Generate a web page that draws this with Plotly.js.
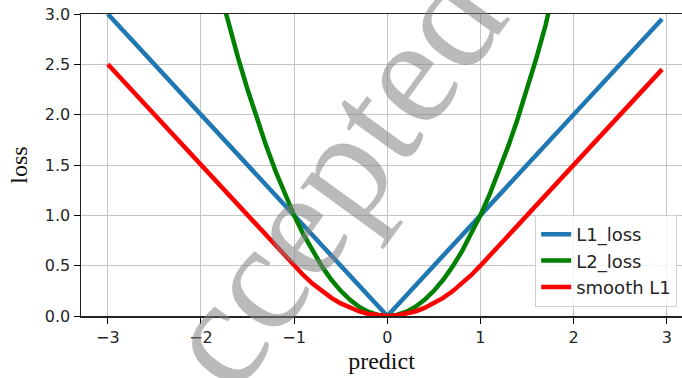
<!DOCTYPE html>
<html>
<head>
<meta charset="utf-8">
<script src="https://cdn.plot.ly/plotly-3.0.1.min.js"></script>
<style>html,body{margin:0;padding:0;overflow:hidden;background:#fff}</style>
</head>
<body>
<div id="chart" style="width:682px;height:378px"></div>
<script>
var predict = [-3.0,-2.9,-2.8,-2.7,-2.6,-2.5,-2.4,-2.3,-2.2,-2.1,-2.0,-1.9,-1.8,-1.7,-1.6,-1.5,-1.4,-1.3,-1.2,-1.1,-1.0,-0.9,-0.8,-0.7,-0.6,-0.5,-0.4,-0.3,-0.2,-0.1,0.0,0.1,0.2,0.3,0.4,0.5,0.6,0.7,0.8,0.9,1.0,1.1,1.2,1.3,1.4,1.5,1.6,1.7,1.8,1.9,2.0,2.1,2.2,2.3,2.4,2.5,2.6,2.7,2.8,2.9,2.95];
var l1Loss = [3.0,2.9,2.8,2.7,2.6,2.5,2.4,2.3,2.2,2.1,2.0,1.9,1.8,1.7,1.6,1.5,1.4,1.3,1.2,1.1,1.0,0.9,0.8,0.7,0.6,0.5,0.4,0.3,0.2,0.1,0.0,0.1,0.2,0.3,0.4,0.5,0.6,0.7,0.8,0.9,1.0,1.1,1.2,1.3,1.4,1.5,1.6,1.7,1.8,1.9,2.0,2.1,2.2,2.3,2.4,2.5,2.6,2.7,2.8,2.9,2.95];
var l2Loss = [9.0,8.41,7.84,7.29,6.76,6.25,5.76,5.29,4.84,4.41,4.0,3.61,3.24,2.89,2.56,2.25,1.96,1.69,1.44,1.21,1.0,0.81,0.64,0.49,0.36,0.25,0.16,0.09,0.04,0.01,0.0,0.01,0.04,0.09,0.16,0.25,0.36,0.49,0.64,0.81,1.0,1.21,1.44,1.69,1.96,2.25,2.56,2.89,3.24,3.61,4.0,4.41,4.84,5.29,5.76,6.25,6.76,7.29,7.84,8.41,8.70];
var smoothL1 = [2.5,2.4,2.3,2.2,2.1,2.0,1.9,1.8,1.7,1.6,1.5,1.4,1.3,1.2,1.1,1.0,0.9,0.8,0.7,0.6,0.5,0.405,0.32,0.245,0.18,0.125,0.08,0.045,0.02,0.005,0.0,0.005,0.02,0.045,0.08,0.125,0.18,0.245,0.32,0.405,0.5,0.6,0.7,0.8,0.9,1.0,1.1,1.2,1.3,1.4,1.5,1.6,1.7,1.8,1.9,2.0,2.1,2.2,2.3,2.4,2.45];
var seriesNames = ["L1_loss","L2_loss","smooth L1"];
var xTicks = [-3,-2,-1,0,1,2,3];
var yTicks = [0,0.5,1,1.5,2,2.5,3];

var colors = ["#1f77b4","#008000","#ff0000"];
var ys = [l1Loss,l2Loss,smoothL1];
var traces = ys.map(function(y,i){
  return {x: predict, y: y, type: "scatter", mode: "lines", name: seriesNames[i],
          line: {color: colors[i], width: 4.5}};
});

var tickFont = {family: "DejaVu Sans", size: 16, color: "#262626"};
var layout = {
  width: 682, height: 378,
  margin: {l: 81, r: 0, t: 14, b: 62},
  paper_bgcolor: "#fff", plot_bgcolor: "#fff",
  showlegend: true,
  legend: {x: 0.992, y: 0.03, xanchor: "right", yanchor: "bottom",
           bgcolor: "rgba(255,255,255,0.8)", bordercolor: "#d0d0d0", borderwidth: 1,
           font: {family: "DejaVu Sans", size: 18, color: "#262626"}, tracegroupgap: 0},
  xaxis: {range: [-3.288, 3.164], tickvals: xTicks, ticks: "outside", ticklen: 6, tickwidth: 1,
          tickcolor: "#000", showline: true, linecolor: "#222", linewidth: 1.5, mirror: true,
          showgrid: true, gridcolor: "#c4c4c4", gridwidth: 1, zeroline: false,
          tickfont: tickFont,
          title: {text: "predict", font: {family: "Liberation Serif", size: 24, color: "#111"}, standoff: 6}},
  yaxis: {range: [0, 3], tickvals: yTicks, tickformat: ".1f", ticks: "outside", ticklen: 6, tickwidth: 1,
          tickcolor: "#000", showline: true, linecolor: "#222", linewidth: 1.5, mirror: false,
          showgrid: true, gridcolor: "#c4c4c4", gridwidth: 1, zeroline: false,
          tickfont: tickFont,
          title: {text: "loss", font: {family: "Liberation Serif", size: 24, color: "#111"}, standoff: 10}},
  annotations: [{
    text: "Accepted", xref: "paper", yref: "paper", x: 0.362, y: 0.31,
    xanchor: "center", yanchor: "middle",
    showarrow: false, textangle: -54,
    font: {family: "Liberation Serif", size: 154, color: "rgba(130,130,130,0.55)"}
  }]
};
Plotly.newPlot("chart", traces, layout, {displayModeBar: false, staticPlot: true});
</script>
</body>
</html>
